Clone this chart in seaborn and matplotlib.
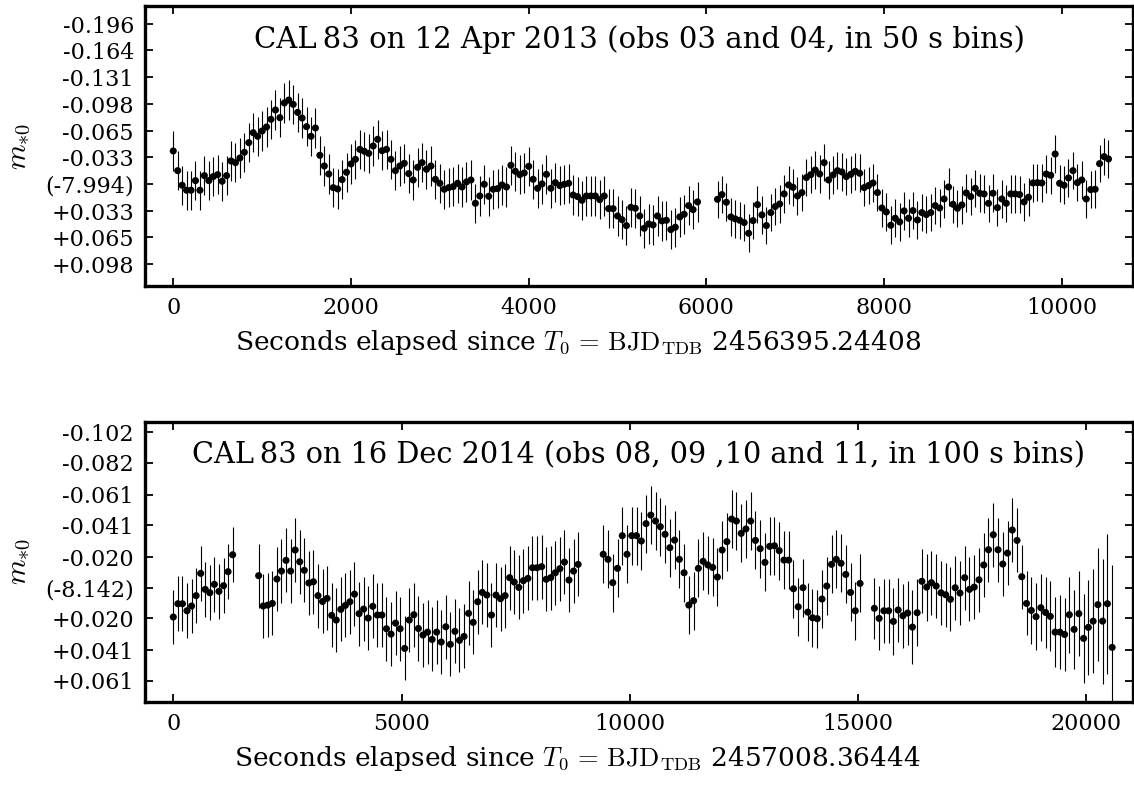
import numpy as np
import pandas as pd
import matplotlib
matplotlib.use("Agg")
import matplotlib.pyplot as plt
import seaborn as sns

# ---------------- data: top panel (12 Apr 2013, 50 s bins) ----------------
top_a_start, top_a_step = 0, 50          # obs 03
top_b_start, top_b_step = 6125, 50       # obs 04
top_mag_a = [
    -0.0408, -0.0167, 0.0012, 0.0073, 0.0073, -0.0045, 0.0073, -0.0106, -0.0045, -0.0094,
    -0.0118, -0.0037, -0.0106, -0.0286, -0.0265, -0.0322, -0.0392, -0.0510, -0.0632, -0.0588,
    -0.0653, -0.0702, -0.0796, -0.0910, -0.0816, -0.0996, -0.1032, -0.0979, -0.0881, -0.0812,
    -0.0706, -0.0588, -0.0690, -0.0355, -0.0224, -0.0126, 0.0041, 0.0057, -0.0057, -0.0147,
    -0.0249, -0.0306, -0.0428, -0.0404, -0.0379, -0.0469, -0.0551, -0.0412, -0.0428, -0.0306,
    -0.0167, -0.0224, -0.0257, -0.0131, -0.0053, -0.0208, -0.0265, -0.0184, -0.0224, -0.0061,
    -0.0012, 0.0061, 0.0041, 0.0029, -0.0012, 0.0033, -0.0029, -0.0053, 0.0233, 0.0143,
    0.0000, 0.0147, 0.0061, 0.0053, 0.0008, 0.0033, -0.0233, -0.0159, -0.0118, -0.0139,
    -0.0220, -0.0061, 0.0049, -0.0004, -0.0122, 0.0049, -0.0020, 0.0016, 0.0000, -0.0012,
    0.0131, 0.0151, 0.0196, 0.0143, 0.0143, 0.0143, 0.0188, 0.0143, 0.0298, 0.0298,
    0.0388, 0.0433, 0.0506, 0.0282, 0.0294, 0.0388, 0.0539, 0.0486, 0.0498, 0.0388,
    0.0449, 0.0441, 0.0555, 0.0526, 0.0400, 0.0367, 0.0261, 0.0310, 0.0216,
]
top_mag_b = [
    0.0184, 0.0126, 0.0220, 0.0400, 0.0424, 0.0441, 0.0469, 0.0600, 0.0445, 0.0249,
    0.0375, 0.0506, 0.0347, 0.0273, 0.0241, 0.0118, 0.0008, 0.0037, 0.0143, 0.0102,
    -0.0082, -0.0118, -0.0175, -0.0126, -0.0265, -0.0053, -0.0114, -0.0167, -0.0151, -0.0094,
    -0.0122, -0.0159, -0.0135, 0.0041, 0.0016, -0.0016, 0.0102, 0.0290, 0.0339, 0.0502,
    0.0416, 0.0461, 0.0326, 0.0416, 0.0322, 0.0437, 0.0347, 0.0371, 0.0347, 0.0261,
    0.0290, 0.0180, 0.0033, 0.0245, 0.0294, 0.0253, 0.0106, 0.0151, 0.0049, 0.0110,
    0.0118, 0.0233, 0.0110, 0.0286, 0.0180, 0.0233, 0.0118, 0.0118, 0.0126, 0.0216,
    0.0159, -0.0016, -0.0020, -0.0016, -0.0126, -0.0110, -0.0371, -0.0012, 0.0012, -0.0078,
    -0.0167, -0.0020, -0.0053, 0.0180, 0.0065, 0.0061, -0.0253, -0.0339, -0.0310,
]
top_err_a = 0.024
top_err_b = 0.023

# ---------------- data: bottom panel (16 Dec 2014, 100 s bins) ----------------
bot_a_start, bot_a_step = 0, 100         # obs 08
bot_b_start, bot_b_step = 1870, 100      # obs 09
bot_c_start, bot_c_step = 9420, 104.2    # obs 10
bot_d_start, bot_d_step = 15360, 104.2   # obs 11
bot_mag_a = [0.0192, 0.0105, 0.0105, 0.0151, 0.0120, 0.0052, -0.0094, 0.0011, 0.0033, -0.0022,
             0.0024, -0.0013, -0.0105, -0.0216]
bot_mag_b = [
    -0.0079, 0.0120, 0.0114, 0.0103, -0.0057, -0.0109, -0.0179, -0.0109, -0.0247, -0.0170,
    -0.0114, -0.0031, -0.0039, 0.0052, 0.0090, 0.0070, 0.0181, 0.0212, 0.0142, 0.0116,
    0.0092, 0.0042, 0.0170, 0.0140, 0.0199, 0.0122, 0.0179, 0.0179, 0.0269, 0.0304,
    0.0232, 0.0269, 0.0398, 0.0212, 0.0177, 0.0267, 0.0310, 0.0291, 0.0339, 0.0291,
    0.0356, 0.0256, 0.0371, 0.0286, 0.0345, 0.0319, 0.0168, 0.0227, 0.0092, 0.0031,
    0.0048, 0.0179, 0.0048, 0.0072, 0.0052, -0.0066, -0.0037, -0.0002, -0.0046, -0.0061,
    -0.0131, -0.0131, -0.0138, -0.0055, -0.0066, -0.0098, -0.0125, -0.0168, -0.0050, -0.0109,
    -0.0153,
]
bot_mag_c = [
    -0.0219, -0.0186, -0.0033, -0.0127, -0.0341, -0.0219, -0.0341, -0.0341, -0.0306, -0.0420,
    -0.0476, -0.0437, -0.0400, -0.0350, -0.0262, -0.0312, -0.0186, -0.0098, 0.0114, 0.0085,
    -0.0127, -0.0173, -0.0149, -0.0133, -0.0070, -0.0247, -0.0302, -0.0450, -0.0437, -0.0356,
    -0.0385, -0.0437, -0.0310, -0.0256, -0.0166, -0.0271, -0.0275, -0.0243, -0.0181, -0.0181,
    0.0007, 0.0125, 0.0000, 0.0160, 0.0197, 0.0203, 0.0074, -0.0011, -0.0153, -0.0186,
    -0.0160, -0.0087, 0.0031, 0.0151, -0.0028,
]
bot_mag_d = [
    0.0135, 0.0201, 0.0151, 0.0151, 0.0221, 0.0146, 0.0184, 0.0166, 0.0258, 0.0164,
    -0.0042, -0.0004, -0.0033, -0.0011, 0.0033, 0.0046, 0.0076, 0.0000, 0.0035, -0.0066,
    0.0011, -0.0004, -0.0052, -0.0149, -0.0249, -0.0347, -0.0249, -0.0155, -0.0227, -0.0378,
    -0.0310, -0.0072, 0.0103, 0.0149, 0.0190, 0.0131, 0.0162, 0.0188, 0.0291, 0.0291,
    0.0306, 0.0177, 0.0273, 0.0170, 0.0332, 0.0260, 0.0219, 0.0111, 0.0219, 0.0105,
    0.0391,
]
bot_err_a = 0.018
bot_err_b = 0.021
bot_err_c = 0.019
bot_err_d = [
    0.020, 0.021, 0.021, 0.021, 0.022, 0.021, 0.021, 0.021, 0.024, 0.022,
    0.021, 0.022, 0.021, 0.021, 0.021, 0.021, 0.021, 0.021, 0.021, 0.021,
    0.021, 0.021, 0.021, 0.021, 0.021, 0.021, 0.021, 0.021, 0.021, 0.021,
    0.021, 0.021, 0.021, 0.022, 0.022, 0.022, 0.023, 0.023, 0.023, 0.024,
    0.024, 0.025, 0.026, 0.028, 0.029, 0.031, 0.034, 0.037, 0.041, 0.046,
    0.054,
]

# ---------------- axes text ----------------
top_title = "CAL\u200983 on 12 Apr 2013 (obs 03 and 04, in 50 s bins)"
bot_title = "CAL\u200983 on 16 Dec 2014 (obs 08, 09 ,10 and 11, in 100 s bins)"
top_xlabel = r"Seconds elapsed since $T_0\,=\,\mathrm{BJD}_{\mathrm{TDB}}$ 2456395.24408"
bot_xlabel = r"Seconds elapsed since $T_0\,=\,\mathrm{BJD}_{\mathrm{TDB}}$ 2457008.36444"
ylabel = r"$m_{*0}$"
top_yticks = [-0.196, -0.164, -0.131, -0.098, -0.065, -0.033, 0.0, 0.033, 0.065, 0.098]
top_yticklabels = ["-0.196", "-0.164", "-0.131", "-0.098", "-0.065", "-0.033",
                   "(-7.994)", "+0.033", "+0.065", "+0.098"]
bot_yticks = [-0.102, -0.082, -0.061, -0.041, -0.020, 0.0, 0.020, 0.041, 0.061]
bot_yticklabels = ["-0.102", "-0.082", "-0.061", "-0.041", "-0.020",
                   "(-8.142)", "+0.020", "+0.041", "+0.061"]
top_xticks = [0, 2000, 4000, 6000, 8000, 10000]
bot_xticks = [0, 5000, 10000, 15000, 20000]


def make_frame(segments):
    rows = []
    for start, step, mags, err in segments:
        n = len(mags)
        t = start + step * np.arange(n)
        e = np.broadcast_to(np.asarray(err, dtype=float), (n,))
        rows.append(pd.DataFrame({"t": t, "mag": mags, "err": e}))
    return pd.concat(rows, ignore_index=True)


df_top = make_frame([(top_a_start, top_a_step, top_mag_a, top_err_a),
                     (top_b_start, top_b_step, top_mag_b, top_err_b)])
df_bot = make_frame([(bot_a_start, bot_a_step, bot_mag_a, bot_err_a),
                     (bot_b_start, bot_b_step, bot_mag_b, bot_err_b),
                     (bot_c_start, bot_c_step, bot_mag_c, bot_err_c),
                     (bot_d_start, bot_d_step, bot_mag_d, bot_err_d)])

sns.set_style("ticks")
plt.rcParams["font.family"] = ["DejaVu Serif"]
plt.rcParams["mathtext.fontset"] = "cm"

W, H = 1134, 785
fig = plt.figure(figsize=(W / 100, H / 100), dpi=100)
ax1 = fig.add_axes([145 / W, 1 - 286 / H, 988 / W, 280 / H])
ax2 = fig.add_axes([145 / W, 1 - 701.7 / H, 988 / W, 280 / H])


def draw(ax, df, title, xlabel, xlim, ylim, xticks, yticks, yticklabels, title_size):
    ax.vlines(df["t"], df["mag"] - df["err"], df["mag"] + df["err"],
              color="black", linewidth=0.8, zorder=2)
    sns.scatterplot(data=df, x="t", y="mag", ax=ax, color="black", s=26,
                    edgecolor="none", linewidth=0, zorder=3, legend=False)
    ax.set_xlim(*xlim)
    ax.set_ylim(*ylim)
    ax.set_xticks(xticks)
    ax.set_xticklabels([str(v) for v in xticks])
    ax.set_yticks(yticks)
    ax.set_yticklabels(yticklabels)
    ax.tick_params(direction="in", length=6, width=1.3, top=True, right=True,
                   labeltop=False, labelright=False, labelsize=16, pad=8,
                   color="black", labelcolor="black")
    for sp in ax.spines.values():
        sp.set_linewidth(2.4)
        sp.set_color("black")
        sp.set_visible(True)
    ax.text(0.5, 0.88, title, transform=ax.transAxes, ha="center", va="center",
            fontsize=title_size, color="black")
    ax.set_xlabel(xlabel, fontsize=19, color="black")
    ax.xaxis.set_label_coords(0.438, -0.152)
    ax.set_ylabel(ylabel, fontsize=21, color="black")
    ax.yaxis.set_label_coords(-0.113, 0.5)
    ax.grid(False)


draw(ax1, df_top, top_title, top_xlabel, (-318, 10801), (0.1246, -0.2184),
     top_xticks, top_yticks, top_yticklabels, 21)
draw(ax2, df_bot, bot_title, bot_xlabel, (-620, 21027), (0.0747, -0.1088),
     bot_xticks, bot_yticks, bot_yticklabels, 20.7)

fig.savefig("out.png", dpi=100)
